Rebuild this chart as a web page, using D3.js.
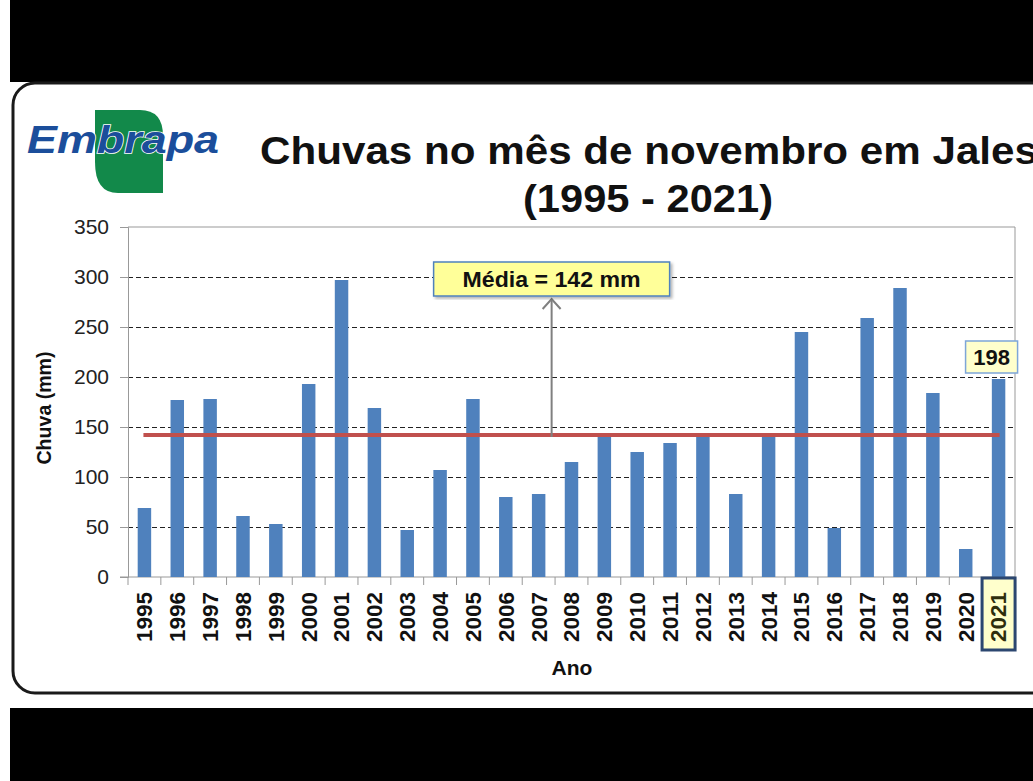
<!DOCTYPE html>
<html>

<head>
  <meta charset="utf-8">
  <style type="text/css">
    body {
      margin: 0;
      background: #fff;
      font-family: "Liberation Sans", Arial, sans-serif;
    }
  </style>
  <title>Chuvas novembro Jales</title>
</head>

<body>
  <script src="https://cdn.jsdelivr.net/npm/d3@7"></script>
  <script>
    var years = [1995, 1996, 1997, 1998, 1999, 2000, 2001, 2002, 2003, 2004, 2005, 2006, 2007, 2008,
      2009, 2010, 2011, 2012, 2013, 2014, 2015, 2016, 2017, 2018, 2019, 2020, 2021];
    var rain = [69, 177, 178, 61, 53, 193, 297, 169, 47, 107, 178, 80, 83, 115,
      141, 125, 134, 141, 83, 141, 245, 49, 259, 289, 184, 28, 198];
    var yTicks = [0, 50, 100, 150, 200, 250, 300, 350];
    var media = 142;
    var lastYear = 2021;

    var W = 1033, H = 781;
    var plot = { left: 128, right: 1015, top: 227, bottom: 577 };

    var svg = d3.select('body').append('svg')
      .attr("width", W)
      .attr("height", H);

    // moldura do slide
    svg.append("rect").attr("x", 10).attr("y", 0).attr("width", W - 10).attr("height", 82).attr("fill", "#000");
    svg.append("rect").attr("x", 10).attr("y", 708).attr("width", W - 10).attr("height", H - 708).attr("fill", "#000");
    svg.append("rect")
      .attr("x", 13).attr("y", 83).attr("width", 1040).attr("height", 610)
      .attr("rx", 22).attr("ry", 22)
      .attr("fill", "#fff").attr("stroke", "#1a1a1a").attr("stroke-width", 3);

    // logo
    svg.append("path")
      .attr("d", "M95,110 L140,110 Q163,110 163,136 L163,193 L118,193 Q95,193 95,162 Z")
      .attr("fill", "#12894a");
    svg.append("text")
      .attr("x", 27).attr("y", 153)
      .attr("textLength", 192).attr("lengthAdjust", "spacingAndGlyphs")
      .attr("font-size", 39).attr("font-weight", "bold").attr("font-style", "italic")
      .attr("fill", "#1b4e9b").attr("stroke", "#fff").attr("stroke-width", 1.5)
      .attr("paint-order", "stroke")
      .text("Embrapa");

    // titulo
    svg.append("text")
      .attr("x", 260).attr("y", 164)
      .attr("textLength", 778).attr("lengthAdjust", "spacingAndGlyphs")
      .attr("font-size", 39).attr("font-weight", "bold").attr("fill", "#111")
      .text("Chuvas no mês de novembro em Jales");
    svg.append("text")
      .attr("x", 648).attr("y", 212)
      .attr("text-anchor", "middle")
      .attr("textLength", 250).attr("lengthAdjust", "spacingAndGlyphs")
      .attr("font-size", 39).attr("font-weight", "bold").attr("fill", "#111")
      .text("(1995 - 2021)");

    var x = d3.scaleBand()
      .domain(years)
      .range([plot.left, plot.right])
      .paddingInner(0.59)
      .paddingOuter(0.295);

    var y = d3.scaleLinear()
      .domain([0, 350])
      .range([plot.bottom, plot.top]);

    var cx = function (d) { return x(d) + x.bandwidth() / 2; };

    // grade tracejada
    svg.append("g").selectAll("line")
      .data(yTicks.filter(d => d > 0 && d < 350))
      .enter().append("line")
      .attr("x1", plot.left).attr("x2", plot.right)
      .attr("y1", d => y(d) + 0.5).attr("y2", d => y(d) + 0.5)
      .attr("stroke", "#222").attr("stroke-width", 1)
      .attr("stroke-dasharray", "5,3");

    // borda da area
    svg.append("line").attr("x1", plot.left).attr("x2", plot.right)
      .attr("y1", y(350)).attr("y2", y(350)).attr("stroke", "#999");
    svg.append("line").attr("x1", plot.right).attr("x2", plot.right)
      .attr("y1", y(350)).attr("y2", y(0)).attr("stroke", "#999");

    var yAxis = d3.axisLeft(y)
      .tickValues(yTicks)
      .tickSize(8)
      .tickPadding(11);
    var gy = svg.append('g')
      .attr('transform', 'translate(' + plot.left + ',0)')
      .call(yAxis);
    gy.select(".domain").attr("stroke", "#999");
    gy.selectAll(".tick line").attr("stroke", "#999");
    gy.selectAll(".tick text")
      .attr("font-family", "'Liberation Sans', Arial, sans-serif")
      .attr("font-size", 21).attr("fill", "#222");

    // eixo x
    svg.append("line").attr("x1", plot.left - 8).attr("x2", plot.right)
      .attr("y1", y(0)).attr("y2", y(0)).attr("stroke", "#999");
    svg.append("g").selectAll("line")
      .data(years.concat([null]))
      .enter().append("line")
      .attr("x1", (d, i) => plot.left + i * x.step())
      .attr("x2", (d, i) => plot.left + i * x.step())
      .attr("y1", y(0)).attr("y2", y(0) + 8)
      .attr("stroke", "#999");

    // barras
    svg.append("g").selectAll("rect")
      .data(years)
      .enter().append("rect")
      .attr("x", d => x(d))
      .attr("width", x.bandwidth())
      .attr("y", (d, i) => y(rain[i]))
      .attr("height", (d, i) => y(0) - y(rain[i]))
      .attr("fill", "#4f81bd");

    // media
    svg.append("line")
      .attr("x1", cx(years[0]) - 1).attr("x2", cx(lastYear) + 1)
      .attr("y1", y(media)).attr("y2", y(media))
      .attr("stroke", "#c0504d").attr("stroke-width", 4);

    // destaque 2021 no eixo
    svg.append("rect")
      .attr("x", cx(lastYear) - 16.5).attr("y", y(0) + 1)
      .attr("width", 33).attr("height", 72)
      .attr("fill", "#ffffcc").attr("stroke", "#2c4770").attr("stroke-width", 3);

    svg.append("g").selectAll("text")
      .data(years)
      .enter().append("text")
      .attr("transform", d => "translate(" + cx(d) + "," + (y(0) + 15) + ") rotate(-90)")
      .attr("dy", "0.36em")
      .attr("text-anchor", "end")
      .attr("textLength", 50).attr("lengthAdjust", "spacingAndGlyphs")
      .attr("font-size", 22).attr("font-weight", "bold")
      .attr("fill", d => d === lastYear ? "#2e2e0c" : "#111")
      .text(d => d);

    // titulos dos eixos
    svg.append("text")
      .attr("x", 572).attr("y", 675)
      .attr("text-anchor", "middle")
      .attr("font-size", 21).attr("font-weight", "bold").attr("fill", "#111")
      .text("Ano");
    svg.append("text")
      .attr("transform", "translate(51,408) rotate(-90)")
      .attr("text-anchor", "middle")
      .attr("textLength", 113).attr("lengthAdjust", "spacingAndGlyphs")
      .attr("font-size", 20).attr("font-weight", "bold").attr("fill", "#111")
      .text("Chuva (mm)");

    // seta e caixa da media
    var ax = x(2007) + x.step() * 0.6;
    var defs = svg.append("defs");
    defs.append("filter").attr("id", "sh")
      .append("feDropShadow").attr("dx", 2).attr("dy", 2).attr("stdDeviation", 1.5)
      .attr("flood-color", "#000").attr("flood-opacity", 0.3);

    svg.append("line")
      .attr("x1", ax).attr("x2", ax)
      .attr("y1", y(media) + 2).attr("y2", y(278))
      .attr("stroke", "#808080").attr("stroke-width", 2);
    svg.append("path")
      .attr("d", "M" + (ax - 9) + "," + (y(278) + 10) + " L" + ax + "," + y(278) + " L" + (ax + 9) + "," + (y(278) + 10))
      .attr("fill", "none").attr("stroke", "#808080").attr("stroke-width", 2);

    svg.append("rect")
      .attr("x", ax - 118).attr("y", y(315))
      .attr("width", 236).attr("height", y(281) - y(315))
      .attr("fill", "#ffff99").attr("stroke", "#4f81bd").attr("stroke-width", 1.5)
      .attr("filter", "url(#sh)");
    svg.append("text")
      .attr("x", ax).attr("y", y(298))
      .attr("dy", "0.36em")
      .attr("text-anchor", "middle")
      .attr("textLength", 178).attr("lengthAdjust", "spacingAndGlyphs")
      .attr("font-size", 22).attr("font-weight", "bold").attr("fill", "#111")
      .text("Média = " + media + " mm");

    // rotulo 2021
    var v21 = rain[years.indexOf(lastYear)];
    svg.append("rect")
      .attr("x", cx(lastYear) - 33).attr("y", y(v21) - 38)
      .attr("width", 52).attr("height", 32)
      .attr("fill", "#ffffcc").attr("stroke", "#7ea6d8").attr("stroke-width", 1.5);
    svg.append("text")
      .attr("x", cx(lastYear) - 7).attr("y", y(v21) - 22)
      .attr("dy", "0.36em")
      .attr("text-anchor", "middle")
      .attr("font-size", 22).attr("font-weight", "bold").attr("fill", "#111")
      .text(v21);
  </script>
</body>

</html>
